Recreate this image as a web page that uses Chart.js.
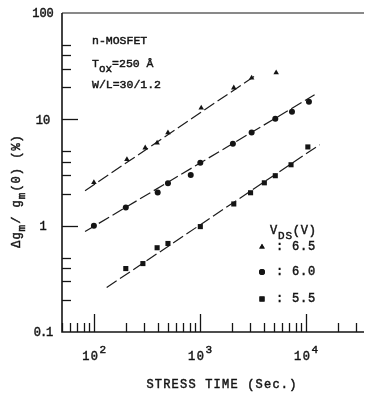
<!DOCTYPE html>
<html>
<head>
<meta charset="utf-8">
<script src="https://cdn.jsdelivr.net/npm/chart.js@4/dist/chart.umd.min.js"></script>
<style>
html,body{margin:0;padding:0;background:#fff;}
#wrap{width:368px;height:393px;position:relative;}
</style>
</head>
<body>
<div id="wrap"><canvas id="c" width="368" height="393"></canvas></div>
<script>
// ---- data ----
const vdsLabels = ['6.5', '6.0', '5.5'];

const timeV65 = [100, 205, 305, 395, 500, 1030, 2090, 3080, 5250];
const dgmV65  = [2.55, 4.2, 5.4, 6.0, 7.5, 12.8, 19.8, 24.5, 27.5];

const timeV60 = [100, 200, 400, 500, 820, 1010, 2050, 3080, 5150, 7400, 10700];
const dgmV60  = [1.0, 1.48, 2.05, 2.5, 3.0, 3.9, 5.9, 7.5, 10.1, 11.8, 14.6];

const timeV55 = [200, 290, 395, 500, 1010, 2090, 3010, 4060, 5150, 7250, 10450];
const dgmV55  = [0.395, 0.44, 0.62, 0.68, 0.98, 1.6, 2.04, 2.53, 2.95, 3.74, 5.5];

// fitted lines (end points)
const fitTime65 = [82.5, 3300];
const fitDgm65  = [2.13, 25.6];
const fitTime60 = [82.5, 12100];
const fitDgm60  = [0.88, 17.0];
const fitTime55 = [132, 13500];
const fitDgm55  = [0.262, 5.77];

// axis ticks
const xRange = [50, 35400];
const yRange = [0.1, 100];
const xMajorTicks = [100, 1000, 10000];
const xMinorTicks = [50,60,70,80,90,200,300,400,500,600,700,800,900,2000,3000,4000,5000,6000,7000,8000,9000,20000,30000];
const xTickExponents = ['2', '3', '4'];
const yMajorTicks = [1, 10];
const yMinorTicks = [0.2,0.3,0.4,0.5,2,3,4,5,20,30,40,50];
const yTickLabels = [0.1, 1, 10, 100];
const yTickText = ['0.1', '1', '10', '100'];

// ---- helpers ----
function pts(xs, ys){ return xs.map((v,i)=>({x:v, y:ys[i]})); }
const INK = '#141414';
const MONO = '"Liberation Mono", "DejaVu Sans Mono", monospace';

function setFont(ctx, size, spacing){
  ctx.font = size + 'px ' + MONO;
  if ('letterSpacing' in ctx) ctx.letterSpacing = (spacing||0) + 'px';
}
function txt(ctx, t, x, y){
  ctx.fillText(t, x, y);
  ctx.strokeText(t, x, y);
}
// parts: [text, kind] kind: 0 normal, 1 sub, 2 sup
function richWidth(ctx, parts, size, subSize, spacing){
  let w = 0;
  for (const [t,k] of parts){ setFont(ctx, k? subSize: size, spacing); w += ctx.measureText(t).width; }
  return w;
}
function drawRich(ctx, parts, x, y, size, subSize, spacing){
  let cx = x;
  for (const [t,k] of parts){
    setFont(ctx, k? subSize: size, spacing);
    const dy = k===1 ? size*0.4 : (k===2 ? -size*0.55 : 0);
    txt(ctx, t, cx, y+dy);
    cx += ctx.measureText(t).width;
  }
}

const frame = {
  id: 'frame',
  afterDraw(chart){
    const {ctx, chartArea:a, scales:{x, y}} = chart;
    ctx.save();
    ctx.strokeStyle = INK;
    ctx.fillStyle = INK;
    // axes frame
    ctx.lineWidth = 1.6;
    ctx.beginPath();
    ctx.moveTo(a.left, a.top); ctx.lineTo(a.left, a.bottom); ctx.lineTo(a.right, a.bottom);
    ctx.stroke();
    ctx.lineWidth = 1.1;
    ctx.beginPath(); ctx.moveTo(a.left, a.top); ctx.lineTo(a.right, a.top); ctx.stroke();

    // x ticks (inward, from bottom)
    ctx.lineWidth = 1.3;
    for (const v of xMinorTicks){
      const px = Math.round(x.getPixelForValue(v)) + 0.5;
      ctx.beginPath(); ctx.moveTo(px, a.bottom); ctx.lineTo(px, a.bottom - 9); ctx.stroke();
    }
    for (const v of xMajorTicks){
      const px = Math.round(x.getPixelForValue(v)) + 0.5;
      ctx.beginPath(); ctx.moveTo(px, a.bottom); ctx.lineTo(px, a.bottom - 18); ctx.stroke();
    }
    // y ticks (inward, from left)
    for (const v of yMinorTicks){
      const py = Math.round(y.getPixelForValue(v)) + 0.5;
      ctx.beginPath(); ctx.moveTo(a.left, py); ctx.lineTo(a.left + 9, py); ctx.stroke();
    }
    for (const v of yMajorTicks){
      const py = Math.round(y.getPixelForValue(v)) + 0.5;
      ctx.beginPath(); ctx.moveTo(a.left, py); ctx.lineTo(a.left + 16, py); ctx.stroke();
    }

    ctx.lineWidth = 0.45;
    // y tick labels
    ctx.textBaseline = 'middle';
    ctx.textAlign = 'center';
    yTickLabels.forEach((v,i)=>{
      setFont(ctx, 12, i===0 ? -1 : 0);
      txt(ctx, yTickText[i], a.left - 19, y.getPixelForValue(v) + 1);
    });

    // x tick labels 10^n
    ctx.textBaseline = 'alphabetic';
    ctx.textAlign = 'left';
    xMajorTicks.forEach((v,i)=>{
      const parts = [['10',0],[xTickExponents[i],2]];
      const w = richWidth(ctx, parts, 12, 11, 1.5);
      drawRich(ctx, parts, x.getPixelForValue(v) - w/2 + 1, a.bottom + 28, 12, 11, 1.5);
    });

    // x title
    ctx.textAlign = 'center';
    setFont(ctx, 12, 1.2);
    txt(ctx, 'STRESS TIME (Sec.)', 222, 388);

    // y title (rotated)
    ctx.save();
    ctx.translate(20, 191);
    ctx.rotate(-Math.PI/2);
    ctx.textAlign = 'left';
    const yParts = [['\u0394g',0],['m',1],['/ g',0],['m',1],['(0) (%)',0]];
    const yw = richWidth(ctx, yParts, 12, 11, 1);
    drawRich(ctx, yParts, -yw/2, 0, 12, 11, 1);
    ctx.restore();

    // device annotation
    ctx.textAlign = 'left';
    setFont(ctx, 11.5, 0);
    txt(ctx, 'n-MOSFET', 92, 44);
    drawRich(ctx, [['T',0],['ox',1],['=250 \u00C5',0]], 92, 67, 11.5, 11, 0);
    setFont(ctx, 11.5, 0);
    txt(ctx, 'W/L=30/1.2', 92, 88);

    // legend
    drawRich(ctx, [['V',0],['DS',1],['(V)',0]], 270, 234, 12, 11, 0.8);
    const legStyles = [['triangle', 3.2, 247], ['circle', 3, 272], ['rect', 3.6, 299]];
    legStyles.forEach(([style, r, ly], i)=>{
      Chart.helpers.drawPoint(ctx, {pointStyle: style, radius: r, borderWidth: 0}, 262, ly);
      ctx.fill();
      setFont(ctx, 12, 0.8);
      ctx.textBaseline = 'middle';
      txt(ctx, ':', 276, ly);
      txt(ctx, vdsLabels[i], 292, ly);
      ctx.textBaseline = 'alphabetic';
    });
    ctx.restore();
  }
};

const lineDs = (xs, ys) => ({
  data: pts(xs, ys), showLine: true, pointRadius: 0,
  borderColor: '#1c1c1c', borderWidth: 1.2, borderDash: [12, 4], order: 2
});
const markDs = (xs, ys, style, r) => ({
  data: pts(xs, ys), showLine: false, pointStyle: style, pointRadius: r,
  backgroundColor: INK, borderColor: INK, borderWidth: 0, order: 1
});

new Chart(document.getElementById('c'), {
  type: 'scatter',
  data: {
    datasets: [
      lineDs(fitTime65, fitDgm65),
      lineDs(fitTime60, fitDgm60),
      lineDs(fitTime55, fitDgm55),
      markDs(timeV65, dgmV65, 'triangle', 3.2),
      markDs(timeV60, dgmV60, 'circle', 3),
      markDs(timeV55, dgmV55, 'rect', 3.6)
    ]
  },
  options: {
    responsive: false,
    animation: false,
    devicePixelRatio: 1,
    layout: { padding: { left: 62, top: 13, right: 0, bottom: 61 } },
    plugins: { legend: { display: false }, tooltip: { enabled: false } },
    scales: {
      x: { type: 'logarithmic', min: xRange[0], max: xRange[1], display: false },
      y: { type: 'logarithmic', min: yRange[0], max: yRange[1], display: false }
    }
  },
  plugins: [frame]
});
</script>
</body>
</html>
